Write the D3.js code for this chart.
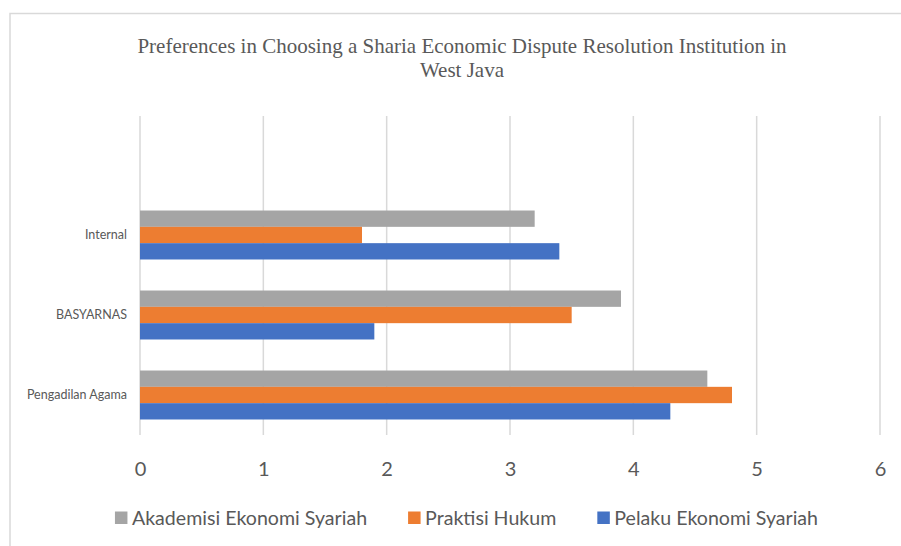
<!DOCTYPE html>
<html>
<head>
<meta charset="utf-8">
<script src="https://cdn.jsdelivr.net/npm/d3@7"></script>
<style>
  body { margin: 0; background: #fff; }
  svg { display: block; }
</style>
</head>
<body>
<svg id="chart" width="901" height="546"></svg>
<script>
// data
var categories = ["", "Internal", "BASYARNAS", "Pengadilan Agama"];   // top to bottom, top row is empty
var seriesNames = ["Akademisi Ekonomi Syariah", "Praktisi Hukum", "Pelaku Ekonomi Syariah"];
var akademisi = [null, 3.2, 3.9, 4.6];
var praktisi  = [null, 1.8, 3.5, 4.8];
var pelaku    = [null, 3.4, 1.9, 4.3];
var xTicks = [0, 1, 2, 3, 4, 5, 6];
var colors = ["#A5A5A5", "#ED7D31", "#4472C4"];
var titleLines = ["Preferences in Choosing a Sharia Economic Dispute Resolution Institution in", "West Java"];

var seriesValues = [akademisi, praktisi, pelaku];

var svg = d3.select("#chart");
var plotLeft = 140, plotRight = 880, plotTop = 115, plotBottom = 435;
var calibri = "Lato, 'Open Sans', sans-serif";

// chart border (runs off the right / bottom edge)
svg.append("rect")
    .attr("x", 10).attr("y", 13.5)
    .attr("width", 1000).attr("height", 1000)
    .attr("fill", "none")
    .attr("stroke", "#D9D9D9")
    .attr("stroke-width", 1.5);

// title
svg.append("text")
    .attr("x", 462).attr("y", 53)
    .attr("text-anchor", "middle")
    .attr("fill", "#595959")
    .style("font-family", "'Liberation Serif', 'Times New Roman', serif")
    .style("font-size", "21px")
  .selectAll("tspan")
  .data(titleLines)
  .join("tspan")
    .attr("x", 462)
    .attr("dy", function(d, i) { return i == 0 ? 0 : 24; })
    .text(function(d) { return d; });

var x = d3.scaleLinear().domain([0, 6]).range([plotLeft, plotRight]);
var y = d3.scaleBand().domain(categories).range([plotTop, plotBottom]);
var ySub = d3.scaleBand().domain(seriesNames).range([0, y.bandwidth()]).paddingOuter(0.95);

// gridlines
svg.append("g")
  .selectAll("line")
  .data(xTicks)
  .join("line")
    .attr("x1", function(d) { return x(d); })
    .attr("x2", function(d) { return x(d); })
    .attr("y1", plotTop + 1)
    .attr("y2", plotBottom)
    .attr("stroke", "#D9D9D9")
    .attr("stroke-width", 1.5);

// bars
seriesNames.forEach(function(name, si) {
  var rows = categories.map(function(c, i) { return { cat: c, value: seriesValues[si][i] }; })
    .filter(function(d) { return d.value != null; });
  svg.append("g")
    .selectAll("rect")
    .data(rows)
    .join("rect")
      .attr("x", x(0))
      .attr("y", function(d) { return y(d.cat) + ySub(name); })
      .attr("width", function(d) { return x(d.value) - x(0); })
      .attr("height", ySub.bandwidth())
      .attr("fill", colors[si]);
});

// x axis labels
var xAxis = svg.append("g")
    .attr("transform", "translate(0," + plotBottom + ")")
    .call(d3.axisBottom(x).tickValues(xTicks).tickSize(0).tickPadding(27).tickFormat(d3.format("d")));
xAxis.select(".domain").remove();
xAxis.selectAll("text")
    .attr("fill", "#595959")
    .style("font-family", calibri)
    .style("font-size", "20px");

// category labels
var yAxis = svg.append("g")
    .attr("transform", "translate(" + plotLeft + ",0)")
    .call(d3.axisLeft(y).tickSize(0).tickPadding(13));
yAxis.select(".domain").remove();
yAxis.selectAll("text")
    .attr("fill", "#595959")
    .style("font-family", calibri)
    .style("font-size", "12.5px");

// legend
var legend = svg.append("g").attr("transform", "translate(0,518)");
var items = legend.selectAll("g")
  .data(seriesNames)
  .join("g");
items.append("rect")
    .attr("y", -6.5)
    .attr("width", 12.5).attr("height", 12.5)
    .attr("fill", function(d, i) { return colors[i]; });
items.append("text")
    .attr("x", 17)
    .attr("dy", "0.35em")
    .attr("fill", "#595959")
    .style("font-family", calibri)
    .style("font-size", "19.6px")
    .text(function(d) { return d; });

var pos = [], cursor = 0;
items.each(function() {
  pos.push(cursor);
  cursor += 17 + this.querySelector("text").getComputedTextLength() + 41;
});
var totalW = cursor - 41;
var startX = 466.5 - totalW / 2;
items.attr("transform", function(d, i) { return "translate(" + (startX + pos[i]) + ",0)"; });
</script>
</body>
</html>
